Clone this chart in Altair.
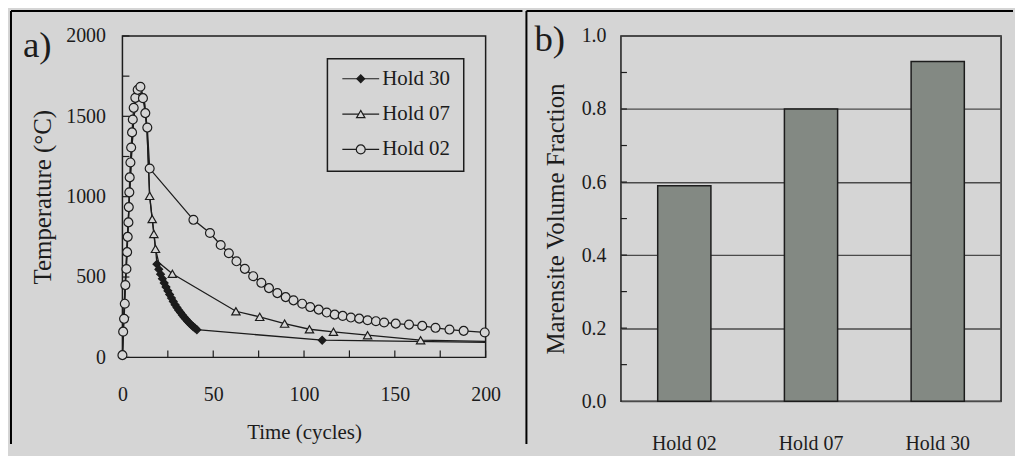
import altair as alt
import pandas as pd

BG = "#d5d5d5"
INK = "#1c1c1c"
BAR = "#838983"
FONT = "Liberation Serif"

SERIES = ["Hold 30", "Hold 07", "Hold 02"]

# ---- panel a data (time in cycles, temperature in C) ----
H02_T = [0, 0.4, 0.9, 1.3, 1.6, 2.2, 2.6, 2.9, 3.3, 3.5, 3.8, 4.0, 4.4, 4.8, 5.3, 5.7, 6.2, 7.1, 8.4, 9.9,
         11.3, 12.6, 13.7, 15.0, 39.1, 48.2, 54.1, 58.6, 62.8, 67.4, 72.0, 76.5, 80.7, 85.3, 89.9, 94.2,
         99.0, 103.4, 108.1, 112.5, 116.9, 121.3, 125.8, 130.4, 135.0, 139.6, 144.1, 150.5, 157.8, 165.1,
         172.4, 180.1, 187.9, 199.5]
H02_V = [14, 160, 240, 334, 450, 550, 655, 750, 840, 935, 1027, 1120, 1213, 1306, 1400, 1480, 1553, 1615, 1665, 1684,
         1613, 1520, 1430, 1175, 856, 774, 699, 648, 598, 551, 505, 464, 431, 400, 375, 355,
         334, 313, 297, 279, 266, 258, 248, 241, 231, 225, 217, 210, 204, 196,
         184, 173, 165, 155]

H07_T = [0, 1, 2, 3, 4, 5, 6, 7, 8, 9.6, 12.0, 13.5, 15.0, 16.4, 17.3, 18.2, 20.0, 27.5,
         62.5, 75.6, 89.3, 103.0, 116.2, 135.0, 164.2, 200]
H07_V = [14, 330, 560, 800, 1030, 1260, 1440, 1570, 1650, 1690, 1600, 1420, 1005, 861, 768, 675, 590, 520,
         287, 252, 210, 175, 159, 138, 107, 100]
H07_M = [False] * 12 + [True] * 4 + [False] + [True] * 8 + [False]

H30_T = [0, 1, 2, 3, 4, 5, 6, 7, 8, 9.6, 12.2, 13.6, 15.0, 16.4, 17.4, 18.3,
         19, 20, 21, 22, 23, 24, 25, 26, 27, 28, 29, 30, 31, 32, 33, 34, 35, 36, 37, 38, 39, 40, 41,
         110, 200]
H30_V = [14, 330, 560, 800, 1030, 1260, 1440, 1570, 1650, 1690, 1580, 1400, 1000, 860, 770, 670,
         580, 548, 518, 490, 463, 438, 414, 391, 369, 348, 328, 310, 294, 279, 264, 250, 237, 224, 212, 201, 191, 182, 172,
         107, 93]
H30_M = [False] * 16 + [True] * 23 + [True, False]

X_TICKS_A = list(range(0, 201, 25))
X_LABELS_A = [0, 50, 100, 150, 200]
Y_TICKS_A = list(range(0, 2001, 250))
Y_LABELS_A = [0, 500, 1000, 1500, 2000]

# ---- panel b data ----
CATS = ["Hold 02", "Hold 07", "Hold 30"]
FRACTION = [0.59, 0.80, 0.93]
Y_TICKS_B = [0.1, 0.2, 0.3, 0.4, 0.5, 0.6, 0.7, 0.8, 0.9]
Y_LABELS_B = [0.0, 0.2, 0.4, 0.6, 0.8, 1.0]

rows = []
for name, ts, vs, ms in [("Hold 30", H30_T, H30_V, H30_M),
                         ("Hold 07", H07_T, H07_V, H07_M),
                         ("Hold 02", H02_T, H02_V, [True] * len(H02_T))]:
    for t, v, m in zip(ts, vs, ms):
        rows.append({"series": name, "t": t, "v": v, "m": m})
df = pd.DataFrame(rows)

one = pd.DataFrame({"lab": ["a)"]})
oneb = pd.DataFrame({"lab": ["b)"]})
dleg = pd.DataFrame({"series": SERIES})

AX = dict(labelFont=FONT, labelFontSize=20, labelColor=INK, titleFont=FONT, titleColor=INK,
          titleFontWeight="normal", ticks=False, domain=False)

xs = alt.Scale(domain=[0, 200], nice=False)
ys = alt.Scale(domain=[0, 2000], nice=False)
shape_s = alt.Scale(domain=SERIES, range=["diamond", "triangle-up", "circle"])
fill_s = alt.Scale(domain=SERIES, range=[INK, BG, BG])
size_s = alt.Scale(domain=SERIES, range=[60, 80, 78])

lines = alt.Chart(df).mark_line(color=INK, strokeWidth=1.3).encode(
    x=alt.X("t:Q", scale=xs, axis=alt.Axis(values=X_LABELS_A, format="d", title="Time (cycles)", grid=False,
                                           labelPadding=27, labelFlush=False, titlePadding=18,
                                           titleFontSize=21, **AX)),
    y=alt.Y("v:Q", scale=ys, axis=alt.Axis(values=Y_LABELS_A, format="d", title="Temperature (°C)", grid=False,
                                           labelPadding=17, titlePadding=10, titleFontSize=25, **AX)),
    detail="series:N",
)

points = alt.Chart(df).transform_filter("datum.m").mark_point(filled=True, stroke=INK, strokeWidth=1.2, opacity=1).encode(
    x=alt.X("t:Q", scale=xs),
    y=alt.Y("v:Q", scale=ys),
    shape=alt.Shape("series:N", scale=shape_s, legend=None),
    fill=alt.Fill("series:N", scale=fill_s, legend=None),
    size=alt.Size("series:N", scale=size_s, legend=None),
)

xt_a = alt.Chart(pd.DataFrame({"v": X_TICKS_A})).mark_rule(color=INK, strokeWidth=1.2).encode(
    x=alt.X("v:Q", scale=xs), y=alt.value(323), y2=alt.value(316))
yt_a = alt.Chart(pd.DataFrame({"v": Y_TICKS_A})).mark_rule(color=INK, strokeWidth=1.2).encode(
    y=alt.Y("v:Q", scale=ys), x=alt.value(0), x2=alt.value(7))

main_a = alt.layer(xt_a, yt_a, lines, points)

# ---- legend drawn as marks (own row scale) ----
ly = alt.Y("series:N", scale=alt.Scale(type="point", domain=SERIES, range=[43, 114], padding=0), axis=None)
leg_box = alt.Chart(one).mark_rect(fill=BG, fillOpacity=0, stroke=INK, strokeWidth=1.5).encode(
    x=alt.value(206), x2=alt.value(343), y=alt.value(23), y2=alt.value(136))
leg_rule = alt.Chart(dleg).mark_rule(color=INK, strokeWidth=1.2).encode(
    x=alt.value(221), x2=alt.value(258), y=ly)
leg_pts = alt.Chart(dleg).mark_point(filled=True, stroke=INK, strokeWidth=1.2, opacity=1).encode(
    x=alt.value(239.5), y=ly,
    shape=alt.Shape("series:N", scale=shape_s, legend=None),
    fill=alt.Fill("series:N", scale=fill_s, legend=None),
    size=alt.Size("series:N", scale=size_s, legend=None),
)
leg_txt = alt.Chart(dleg).mark_text(font=FONT, fontSize=21, align="left", baseline="middle", color=INK).encode(
    x=alt.value(261), y=ly, text="series:N")
legend_a = alt.layer(leg_box, leg_rule, leg_pts, leg_txt)

lab_a = alt.Chart(one).mark_text(font=FONT, fontSize=37, align="left", baseline="alphabetic", color=INK).encode(
    x=alt.value(-100), y=alt.value(21), text="lab:N")

frame_a1 = alt.Chart(one).mark_rule(color="#000", strokeWidth=2).encode(
    x=alt.value(-112), y=alt.value(-25), y2=alt.value(410))
frame_a2 = alt.Chart(one).mark_rule(color="#000", strokeWidth=2).encode(
    x=alt.value(-112), x2=alt.value(402), y=alt.value(-25))

panel_a = alt.layer(frame_a1, frame_a2, main_a, legend_a, lab_a).resolve_scale(y="independent").properties(
    width=365, height=323)

# ---- panel b ----
dfb = pd.DataFrame({"cat": CATS, "val": FRACTION})
ysb = alt.Scale(domain=[0, 1], nice=False)
bars = alt.Chart(dfb).mark_bar(color=BAR, stroke=INK, strokeWidth=1.5).encode(
    x=alt.X("cat:N", sort=CATS, scale=alt.Scale(paddingInner=0.58, paddingOuter=0.29),
            axis=alt.Axis(title=None, labelAngle=0, labelPadding=33, **AX)),
    y=alt.Y("val:Q", scale=ysb,
            axis=alt.Axis(values=Y_LABELS_B, format=".1f", grid=True, gridColor="#4a4a4a", gridWidth=1.3,
                          labelPadding=15, title="Marensite Volume Fraction",
                          titleFontSize=25, titlePadding=13, **AX)),
)
yt_b = alt.Chart(pd.DataFrame({"v": Y_TICKS_B})).mark_rule(color=INK, strokeWidth=1.2).encode(
    y=alt.Y("v:Q", scale=ysb), x=alt.value(0), x2=alt.value(6))
lab_b = alt.Chart(oneb).mark_text(font=FONT, fontSize=37, align="left", baseline="alphabetic", color=INK).encode(
    x=alt.value(-87), y=alt.value(15), text="lab:N")
frame_b1 = alt.Chart(oneb).mark_rule(color="#000", strokeWidth=2).encode(
    x=alt.value(-95), y=alt.value(-25), y2=alt.value(410))
frame_b2 = alt.Chart(oneb).mark_rule(color="#000", strokeWidth=2).encode(
    x=alt.value(-95), x2=alt.value(394), y=alt.value(-25))

panel_b = alt.layer(frame_b1, frame_b2, bars, yt_b, lab_b).properties(width=382, height=367)

chart = alt.hconcat(panel_a, panel_b, spacing=0).properties(
    padding={"left": 1, "top": 0, "right": 0, "bottom": 0}, background=BG
).configure_view(stroke=INK, strokeWidth=1.5)

chart.save("out.html", embed_options={"renderer": "svg", "actions": False})
